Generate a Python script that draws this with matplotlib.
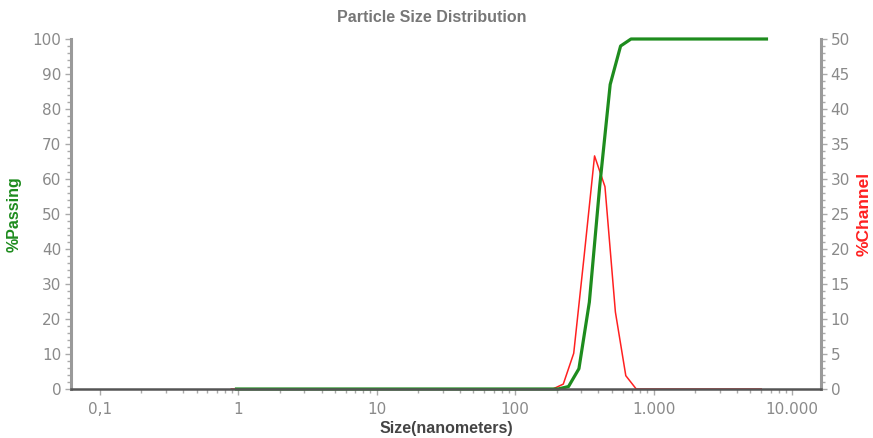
import numpy as np
import matplotlib
matplotlib.use("Agg")
import matplotlib.pyplot as plt
from matplotlib.ticker import FixedLocator, NullFormatter, MultipleLocator

# cumulative %passing, at channel upper edges (nm)
pass_size = [0.972, 204.4, 243.1, 289.1, 343.8, 408.8, 486.2, 578.1, 687.5, 6540]
pass_pct = [0, 0, 0.7, 5.8, 24.8, 58.1, 87.0, 98.0, 100, 100]

# %channel, at channel midpoints (nm)
chan_size = [0.892, 187.4, 222.9, 265.1, 315.3, 374.9, 445.8, 530.2, 630.4, 749.7, 5998]
chan_pct = [0, 0, 0.7, 5.1, 19.0, 33.3, 28.9, 11.0, 1.9, 0, 0]

x_ticks = [0.1, 1, 10, 100, 1000, 10000]
x_labels = ['0,1', '1', '10', '100', '1.000', '10.000']

gray = '#8a8a8a'
green = '#1e8c1e'
red = '#ff2020'

fig = plt.figure(figsize=(8.73, 4.38), dpi=100)
ax = fig.add_axes([71/873, 49/438, 750/873, 350/438])
ax2 = ax.twinx()
ax.set_zorder(ax2.get_zorder() + 1)
ax.patch.set_visible(False)

ax2.plot(chan_size, chan_pct, color=red, lw=1.1, clip_on=False)
ax.plot(pass_size, pass_pct, color=green, lw=2.3, clip_on=False)

ax.set_xscale('log')
ax.set_xlim(0.062, 16200)
ax.set_ylim(0, 100)
ax2.set_ylim(0, 50)

ax.xaxis.set_major_locator(FixedLocator(x_ticks))
ax.set_xticklabels(x_labels)
minors = [m * d for d in [0.1, 1, 10, 100, 1000] for m in range(2, 10)]
ax.xaxis.set_minor_locator(FixedLocator(minors))
ax.xaxis.set_minor_formatter(NullFormatter())

ax.yaxis.set_major_locator(MultipleLocator(10))
ax.yaxis.set_minor_locator(MultipleLocator(2))
ax2.yaxis.set_major_locator(MultipleLocator(5))
ax2.yaxis.set_minor_locator(MultipleLocator(1))

for a in (ax, ax2):
    for s in a.spines.values():
        s.set_visible(False)
ax.spines['left'].set_visible(True)
ax.spines['left'].set_color('#9a9a9a')
ax.spines['left'].set_linewidth(2.2)
ax.spines['bottom'].set_visible(True)
ax.spines['bottom'].set_color('#555555')
ax.spines['bottom'].set_linewidth(1.8)
ax2.spines['right'].set_visible(True)
ax2.spines['right'].set_color('#9a9a9a')
ax2.spines['right'].set_linewidth(2.2)

ax.tick_params(axis='both', which='major', length=4, width=1, color='#aaaaaa',
               labelcolor=gray, labelsize=11)
ax.tick_params(axis='both', which='minor', length=3, width=1, color='#aaaaaa')
ax.tick_params(axis='x', which='both', pad=5)
ax.tick_params(axis='y', which='both', pad=3)
ax2.tick_params(axis='y', which='major', length=4, width=1, color='#aaaaaa',
                labelcolor=gray, labelsize=11, pad=3)
ax2.tick_params(axis='y', which='minor', length=3, width=1, color='#aaaaaa')

ax.set_ylabel('%Passing', color=green, fontweight='bold', fontsize=11.5,
              family='Liberation Sans', labelpad=8)
ax2.set_ylabel('%Channel', color=red, fontweight='bold', fontsize=12.5,
               family='Liberation Sans', rotation=90)
ax2.yaxis.set_label_coords(1 + 36/750, 0.5)
ax.set_xlabel('Size(nanometers)', color='#444444', fontweight='bold', fontsize=11.5,
              family='Liberation Sans', labelpad=3)
fig.text(432/873, 1 - 18/438, 'Particle Size Distribution', color='#777777',
         fontweight='bold', fontsize=11.5, family='Liberation Sans',
         ha='center', va='center')

fig.savefig('out.png', dpi=100)
